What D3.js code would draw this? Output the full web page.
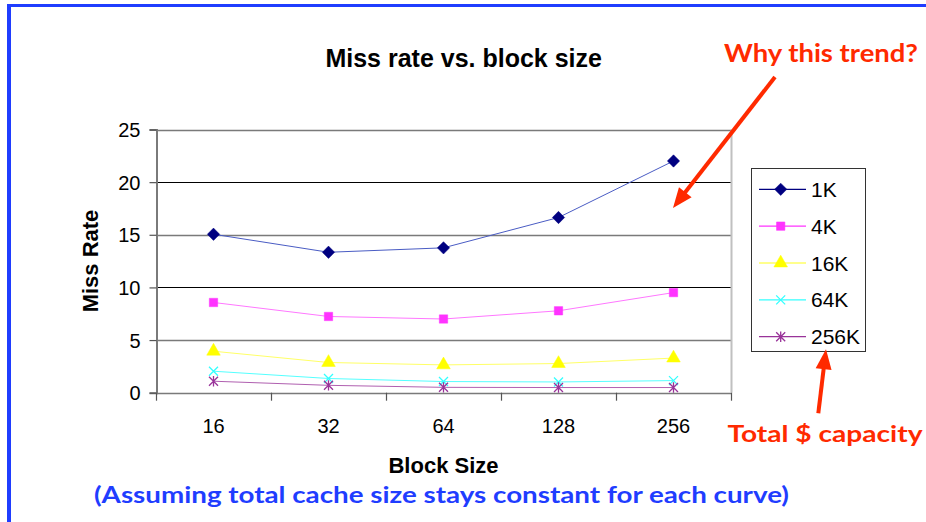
<!DOCTYPE html>
<html>
<head>
<meta charset="utf-8">
<script src="https://cdn.jsdelivr.net/npm/d3@7"></script>
<style>
  html, body { margin: 0; padding: 0; background: #fff; }
  svg { display: block; }
</style>
</head>
<body>
<svg id="chart" width="926" height="522"></svg>
<script>
// ---- data ----
const categories = ["16", "32", "64", "128", "256"];
const seriesNames = ["1K", "4K", "16K", "64K", "256K"];
const values1K   = [15.05, 13.34, 13.76, 16.64, 22.01];
const values4K   = [8.57, 7.24, 7.00, 7.78, 9.51];
const values16K  = [3.94, 2.87, 2.64, 2.77, 3.29];
const values64K  = [2.04, 1.35, 1.06, 1.02, 1.15];
const values256K = [1.09, 0.70, 0.51, 0.49, 0.49];
const yTicks = [0, 5, 10, 15, 20, 25];
const titleText = "Miss rate vs. block size";
const xTitle = "Block Size";
const yTitle = "Miss Rate";
const noteTop = "Why this trend?";
const noteRight = "Total $ capacity";
const noteBottom = "(Assuming total cache size stays constant for each curve)";

// ---- style ----
const lineColors = ["#4a5cc4", "#ff77ff", "#ffff66", "#55ffff", "#b060b0"];
const legendLineColors = ["#000080", "#ff33ff", "#ffff66", "#33ffff", "#993399"];
const markColors = ["#000080", "#ff33ff", "#ffff00", "#33ffff", "#993399"];
const allValues = [values1K, values4K, values16K, values64K, values256K];
const series = seriesNames.map((n, i) => ({ name: n, values: allValues[i], line: lineColors[i], legLine: legendLineColors[i], mark: markColors[i], idx: i }));

const svg = d3.select("#chart");

// custom marker shapes
const diamond = { draw(ctx, size) { const r = Math.sqrt(size) / 1.3; ctx.moveTo(0, -r); ctx.lineTo(r, 0); ctx.lineTo(0, r); ctx.lineTo(-r, 0); ctx.closePath(); } };
const xMark = { draw(ctx, size) { const r = Math.sqrt(size) / 2; ctx.moveTo(-r, -r); ctx.lineTo(r, r); ctx.moveTo(-r, r); ctx.lineTo(r, -r); } };
const star = { draw(ctx, size) { const r = Math.sqrt(size) / 2; ctx.moveTo(-r, -r); ctx.lineTo(r, r); ctx.moveTo(-r, r); ctx.lineTo(r, -r); ctx.moveTo(0, -r * 1.15); ctx.lineTo(0, r * 1.15); } };
const markerDefs = [
  { type: diamond, size: 64, fill: true },
  { type: d3.symbolSquare, size: 70, fill: true },
  { type: d3.symbolTriangle, size: 80, fill: true },
  { type: xMark, size: 81, fill: false },
  { type: star, size: 81, fill: false }
];

// ---- scales ----
const x = d3.scaleBand().domain(categories).range([156, 731]).padding(0);
const y = d3.scaleLinear().domain([0, 25]).range([392.7, 129.5]);
const cx = c => x(c) + x.bandwidth() / 2;

// blue frame
svg.append("line").attr("x1", 7).attr("x2", 926).attr("y1", 5.5).attr("y2", 5.5)
  .attr("stroke", "#1f3dff").attr("stroke-width", 3);
svg.append("line").attr("x1", 9).attr("x2", 9).attr("y1", 4).attr("y2", 522)
  .attr("stroke", "#1f3dff").attr("stroke-width", 4);

// gridlines
const grid = svg.append("g");
yTicks.forEach(t => {
  const dark = (t === 10 || t === 20);
  grid.append("line")
    .attr("x1", 156).attr("x2", 731)
    .attr("y1", Math.round(y(t)) + 0.5).attr("y2", Math.round(y(t)) + 0.5)
    .attr("stroke", dark ? "#000" : "#7a7a7a")
    .attr("stroke-width", dark ? 1 : 1.6);
});
// right border of plot area
svg.append("line").attr("x1", 731.5).attr("x2", 731.5).attr("y1", y(25)).attr("y2", y(0))
  .attr("stroke", "#c0c0c0").attr("stroke-width", 2);

// y axis
const yAxis = d3.axisLeft(y).tickValues(yTicks).tickSize(7).tickPadding(9).tickFormat(d3.format("d"));
const yg = svg.append("g").attr("transform", "translate(156.5,0)").call(yAxis);
yg.select(".domain").attr("stroke", "#7a7a7a").attr("stroke-width", 2);
yg.selectAll(".tick line").attr("stroke", "#555").attr("stroke-width", 1.2);
yg.selectAll(".tick text").attr("font-family", "'Liberation Sans', Arial, sans-serif")
  .attr("font-size", 20).attr("fill", "#000").attr("dy", "0.36em");

// x axis ticks at band boundaries
const xg = svg.append("g");
const bounds = categories.map(c => x(c)).concat([x.range()[1]]);
xg.selectAll("line.xt").data(bounds).join("line").attr("class", "xt")
  .attr("x1", d => Math.round(d) + 0.5).attr("x2", d => Math.round(d) + 0.5)
  .attr("y1", y(0)).attr("y2", y(0) + 8)
  .attr("stroke", "#555").attr("stroke-width", 1.2);
xg.selectAll("text").data(categories).join("text")
  .attr("x", d => cx(d)).attr("y", 433)
  .attr("text-anchor", "middle")
  .attr("font-family", "'Liberation Sans', Arial, sans-serif").attr("font-size", 20)
  .text(d => d);

// series lines
const lineGen = d3.line().x((d, i) => cx(categories[i])).y(d => y(d));
const sg = svg.append("g");
series.forEach(s => {
  sg.append("path").datum(s.values).attr("d", lineGen)
    .attr("fill", "none").attr("stroke", s.line).attr("stroke-width", 1);
});
series.forEach(s => {
  const m = markerDefs[s.idx];
  const sym = d3.symbol().type(m.type).size(m.size);
  sg.selectAll(null).data(s.values).join("path")
    .attr("transform", (d, i) => `translate(${cx(categories[i])},${y(d)})`)
    .attr("d", sym)
    .attr("fill", m.fill ? s.mark : "none")
    .attr("stroke", s.mark).attr("stroke-width", m.fill ? 0.5 : 1.3);
});

// titles
svg.append("text").attr("x", 463.7).attr("y", 67).attr("text-anchor", "middle")
  .attr("font-family", "'Liberation Sans', Arial, sans-serif").attr("font-weight", "bold")
  .attr("font-size", 25).text(titleText);
svg.append("text").attr("x", 443.5).attr("y", 472.5).attr("text-anchor", "middle")
  .attr("font-family", "'Liberation Sans', Arial, sans-serif").attr("font-weight", "bold")
  .attr("font-size", 22).text(xTitle);
svg.append("text").attr("transform", "translate(97.5,261) rotate(-90)").attr("text-anchor", "middle")
  .attr("font-family", "'Liberation Sans', Arial, sans-serif").attr("font-weight", "bold")
  .attr("font-size", 22).text(yTitle);

// legend
const lg = svg.append("g");
lg.append("rect").attr("x", 751.5).attr("y", 168.5).attr("width", 114).attr("height", 183)
  .attr("fill", "#fff").attr("stroke", "#333").attr("stroke-width", 1);
const legY = d3.scalePoint().domain(seriesNames).range([189.3, 336.7]);
series.forEach(s => {
  const ly = legY(s.name);
  const m = markerDefs[s.idx];
  lg.append("line").attr("x1", 759).attr("x2", 806).attr("y1", ly).attr("y2", ly)
    .attr("stroke", s.legLine).attr("stroke-width", 1.3);
  lg.append("path").attr("transform", `translate(780.7,${ly})`)
    .attr("d", d3.symbol().type(m.type).size(m.size)())
    .attr("fill", m.fill ? s.mark : "none")
    .attr("stroke", s.mark).attr("stroke-width", m.fill ? 0.5 : 1.3);
  lg.append("text").attr("x", 811).attr("y", ly).attr("dy", "0.36em")
    .attr("font-family", "'Liberation Sans', Arial, sans-serif").attr("font-size", 21)
    .text(s.name);
});

// annotations
const red = "#ff2a00";
const noteFont = "Lato, 'DejaVu Sans', sans-serif";
svg.append("text").attr("x", 724).attr("y", 62).attr("font-family", noteFont)
  .attr("font-weight", "bold").attr("font-size", 24).attr("fill", red)
  .attr("textLength", 194).attr("lengthAdjust", "spacingAndGlyphs").text(noteTop);
svg.append("text").attr("x", 727.5).attr("y", 441.7).attr("font-family", noteFont)
  .attr("font-weight", "bold").attr("font-size", 22).attr("fill", red)
  .attr("textLength", 195).attr("lengthAdjust", "spacingAndGlyphs").text(noteRight);
svg.append("text").attr("x", 94).attr("y", 503).attr("font-family", noteFont)
  .attr("font-weight", "bold").attr("font-size", 23).attr("fill", "#1f3dff")
  .attr("textLength", 695).attr("lengthAdjust", "spacingAndGlyphs").text(noteBottom);

function arrow(x1, y1, x2, y2) {
  const ang = Math.atan2(y2 - y1, x2 - x1);
  const L = 20, W = 8;
  const bx = x2 - L * Math.cos(ang), by = y2 - L * Math.sin(ang);
  svg.append("line").attr("x1", x1).attr("y1", y1).attr("x2", bx + 2 * Math.cos(ang)).attr("y2", by + 2 * Math.sin(ang))
    .attr("stroke", red).attr("stroke-width", 4);
  const px = -Math.sin(ang) * W, py = Math.cos(ang) * W;
  svg.append("path").attr("d", `M${x2},${y2}L${bx + px},${by + py}L${bx - px},${by - py}Z`).attr("fill", red);
}
arrow(775, 77, 673, 208);
arrow(818.3, 413.3, 826, 349.3);
</script>
</body>
</html>
